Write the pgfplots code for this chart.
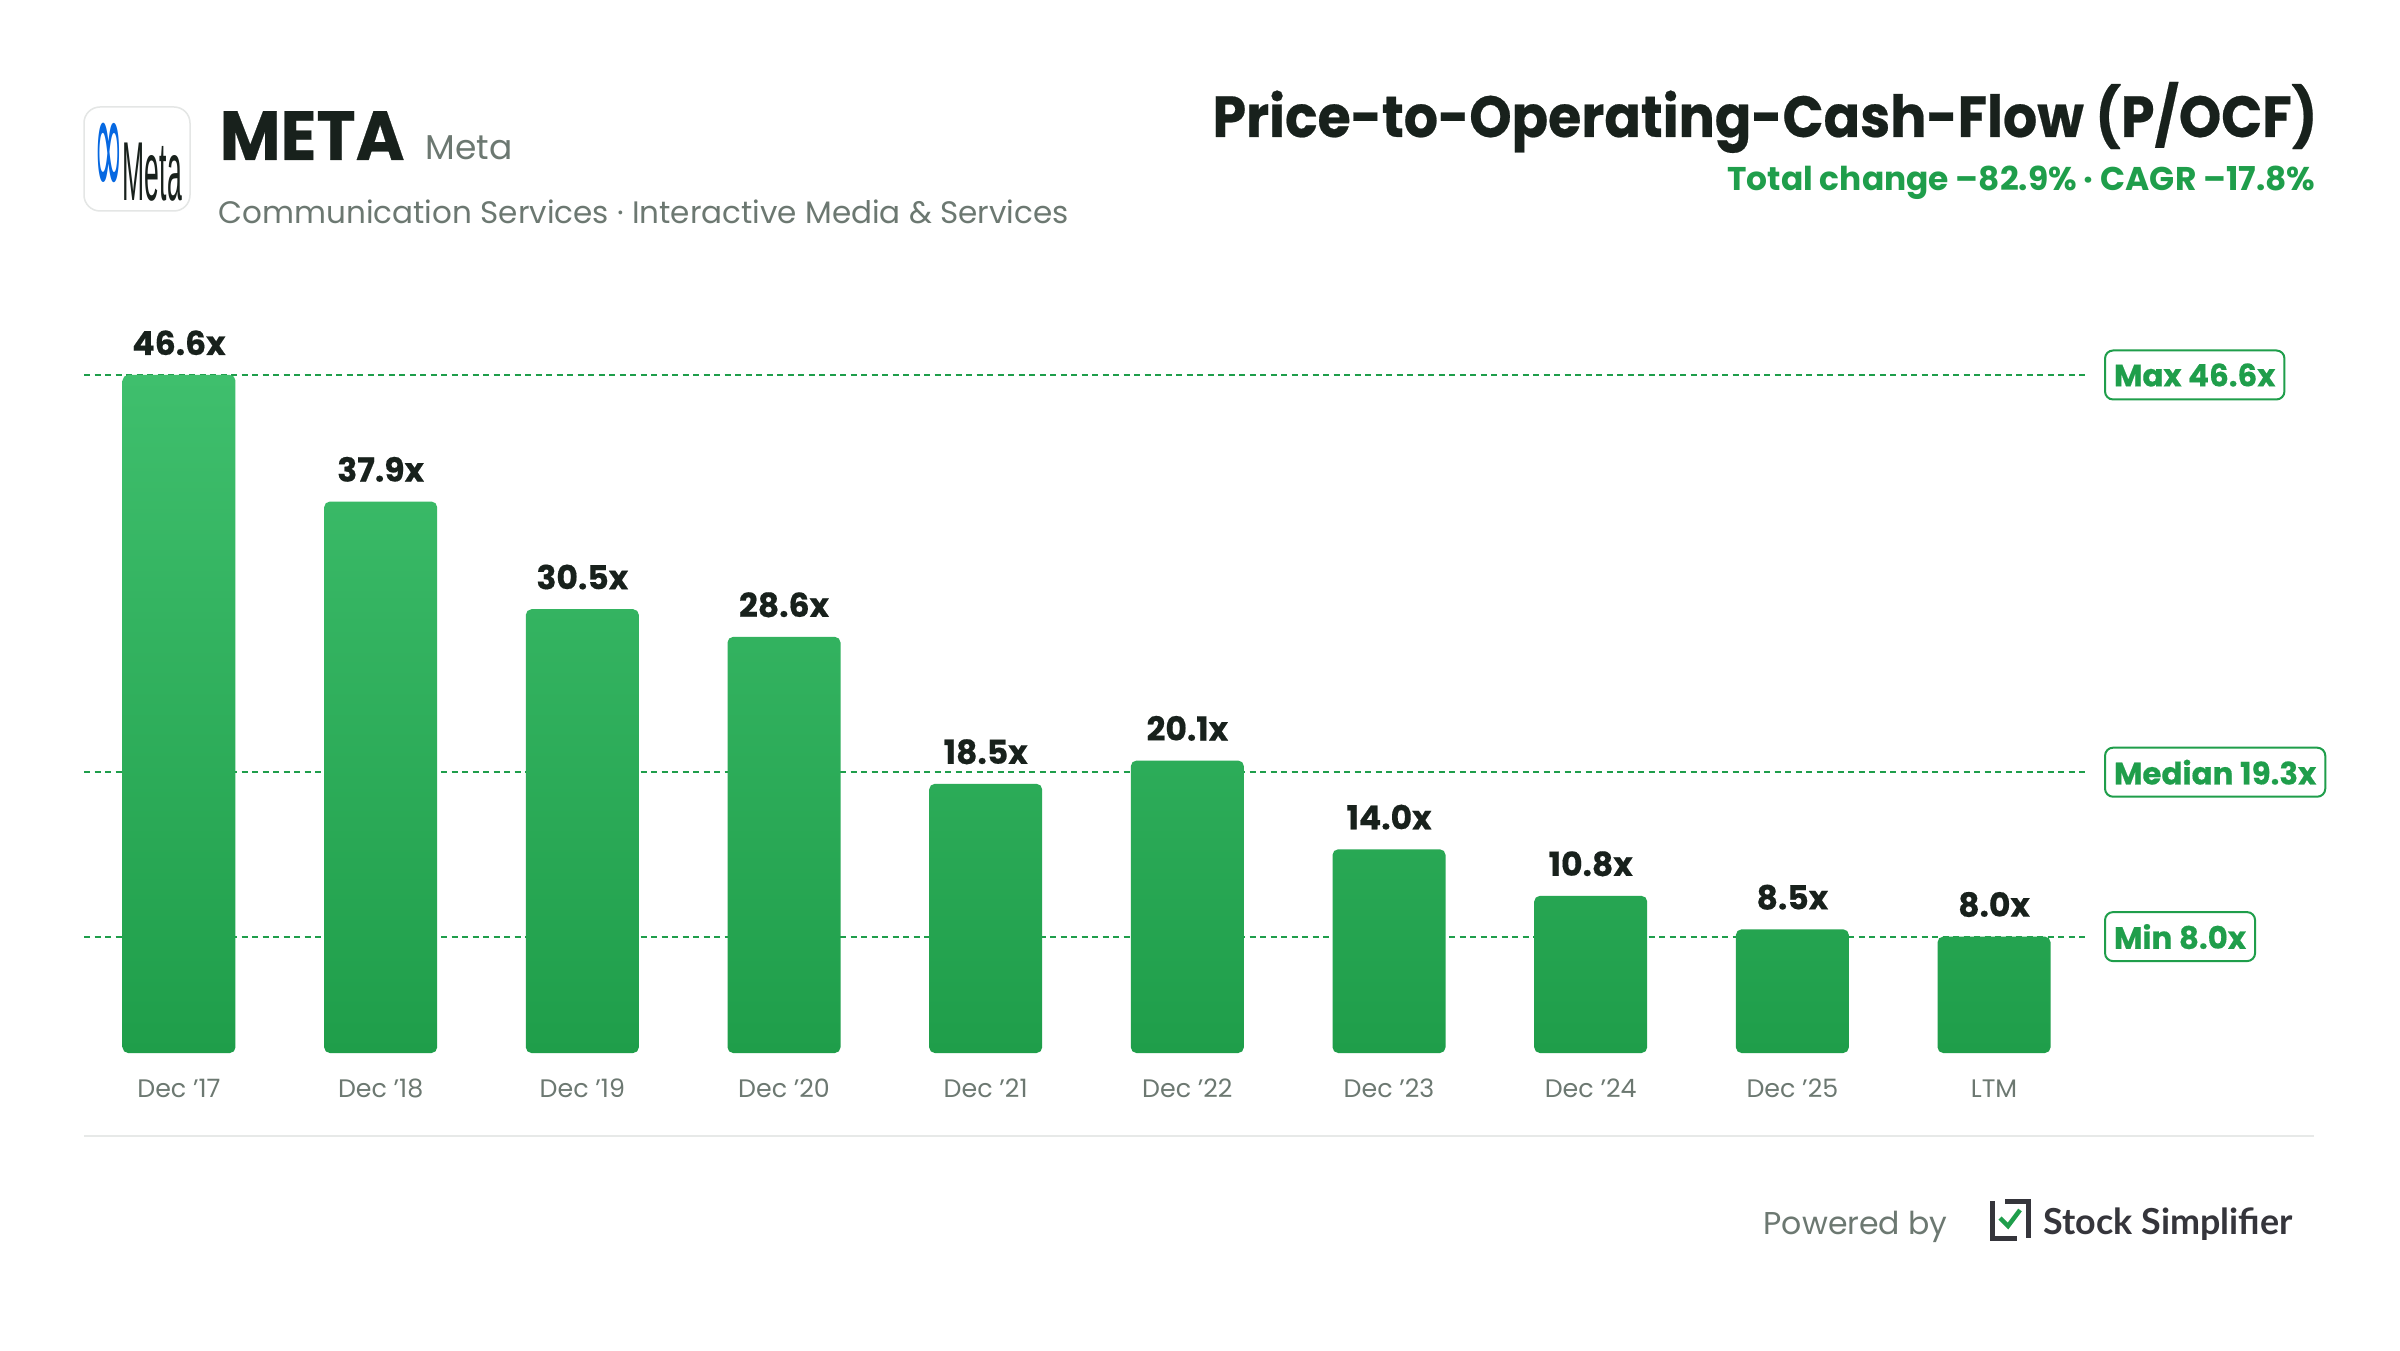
\documentclass[border=0pt]{standalone}
\usepackage{fontspec}
\setmainfont{Poppins}
\newfontfamily\heavy{Poppins}[BoldFeatures={FakeBold=0.4}]
\newfontfamily\dejavu{DejaVu Sans}
\newfontfamily\libsans{Liberation Sans}
\newfontfamily\lato{Lato}
\usepackage{graphicx}
\usepackage{pgfplots}
\pgfplotsset{compat=1.18}
\definecolor{ink}{HTML}{18211C}
\definecolor{greytxt}{HTML}{6C7871}
\definecolor{grn}{HTML}{1F9E4B}
\definecolor{bartop}{HTML}{3FBF6D}
\definecolor{barbot}{HTML}{1F9E4A}
\definecolor{sepc}{HTML}{E7E9E8}
\definecolor{metablue}{HTML}{0668E1}
\definecolor{logoc}{HTML}{35353B}
\definecolor{boxgrey}{HTML}{E4E6E5}
\begin{document}
\begin{tikzpicture}[x=1cm,y=1cm]
\path[use as bounding box, fill=white] (0,0) rectangle (24,13.5);
% logo
\draw[boxgrey, line width=0.15mm, rounded corners=1.6mm] (0.84,11.39) rectangle (1.90,12.43);
\node[inner sep=0] at (1.38,11.88) {\scalebox{0.27}[0.85]{\fontsize{28pt}{28pt}\selectfont{\dejavu\color{metablue}\scalebox{1.3}[1.9]{∞}}{\libsans\color{ink}Meta}}};
% header texts
\node[anchor=base west, inner sep=0, text=ink] at (2.19,11.90) {\scalebox{0.953}[1]{\heavy\bfseries\fontsize{19.8pt}{22pt}\selectfont META}};
\node[anchor=base west, inner sep=0, text=greytxt] at (4.25,11.90) {\fontsize{9.8pt}{11pt}\selectfont Meta};
\node[anchor=base west, inner sep=0, text=greytxt] at (2.18,11.26) {\fontsize{8.83pt}{10pt}\selectfont Communication Services · Interactive Media \& Services};
\node[anchor=base east, inner sep=0, text=ink] at (23.18,12.13) {\scalebox{0.928}[1]{\heavy\bfseries\fontsize{16.5pt}{20pt}\selectfont Price-to-Operating-Cash-Flow (P/OCF)}};
\node[anchor=base east, inner sep=0, text=grn] at (23.16,11.59) {\bfseries\fontsize{9.35pt}{11pt}\selectfont Total change –82.9\% · CAGR –17.8\%};
% separator
\draw[sepc, line width=0.2mm] (0.84,2.14) -- (23.14,2.14);
% footer
\node[anchor=base west, inner sep=0, text=greytxt] at (17.63,1.16) {\fontsize{8.97pt}{11pt}\selectfont Powered by};
\draw[logoc, line width=0.5mm] (19.92,1.49) -- (19.92,1.12) -- (20.17,1.12);
\draw[logoc, line width=0.5mm] (20.05,1.49) -- (20.28,1.49) -- (20.28,1.12);
\draw[grn, line width=0.45mm] (20.00,1.32) -- (20.08,1.24) -- (20.20,1.40);
\node[anchor=base west, inner sep=0, text=logoc] at (20.43,1.16) {\lato\bfseries\fontsize{10.2pt}{12pt}\selectfont Stock Simplifier};
\begin{axis}[
  at={(0.84cm,2.97cm)}, anchor=south west,
  scale only axis, width=20.05cm, height=7.275cm,
  xmin=-0.471, xmax=9.471, ymin=0, ymax=50,
  axis line style={draw=none},
  ytick=\empty,
  xtick={0,1,2,3,4,5,6,7,8,9},
  xticklabels={Dec ’17,Dec ’18,Dec ’19,Dec ’20,Dec ’21,Dec ’22,Dec ’23,Dec ’24,Dec ’25,LTM},
  major tick length=0pt,
  xticklabel style={anchor=base, yshift=-4.4mm, font=\fontsize{7.2pt}{9pt}\selectfont, text=greytxt},
  clip=false,
  /pgf/number format/assume math mode=true,
]
\addplot[grn, line width=0.2mm, dash pattern=on 0.6mm off 0.45mm, forget plot] coordinates {(-0.471,46.6) (9.471,46.6)};
\addplot[grn, line width=0.2mm, dash pattern=on 0.6mm off 0.45mm, forget plot] coordinates {(-0.471,19.3) (9.471,19.3)};
\addplot[grn, line width=0.2mm, dash pattern=on 0.6mm off 0.45mm, forget plot] coordinates {(-0.471,8.0) (9.471,8.0)};
\addplot[ybar, bar width=1.13cm, draw=none, top color=bartop, bottom color=barbot, rounded corners=1.6pt,
  nodes near coords={\pgfmathprintnumber[fixed,fixed zerofill,precision=1]{\pgfplotspointmeta}x},
  every node near coord/.append style={anchor=base, yshift=2mm, font=\heavy\bfseries\fontsize{9.4pt}{11pt}\selectfont, text=ink},
] coordinates {(0,46.6) (1,37.9) (2,30.5) (3,28.6) (4,18.5) (5,20.1) (6,14.0) (7,10.8) (8,8.5) (9,8.0)};
\node[draw=grn, line width=0.2mm, rounded corners=0.8mm, fill=white, text=grn, anchor=west, minimum height=4.9mm, inner xsep=0.9mm, font=\heavy\bfseries\fontsize{8.8pt}{10pt}\selectfont, xshift=1.5mm] at (axis cs:9.471,46.6) {Max 46.6x};
\node[draw=grn, line width=0.2mm, rounded corners=0.8mm, fill=white, text=grn, anchor=west, minimum height=4.9mm, inner xsep=0.9mm, font=\heavy\bfseries\fontsize{8.8pt}{10pt}\selectfont, xshift=1.5mm] at (axis cs:9.471,19.3) {Median 19.3x};
\node[draw=grn, line width=0.2mm, rounded corners=0.8mm, fill=white, text=grn, anchor=west, minimum height=4.9mm, inner xsep=0.9mm, font=\heavy\bfseries\fontsize{8.8pt}{10pt}\selectfont, xshift=1.5mm] at (axis cs:9.471,8.0) {Min 8.0x};
\end{axis}
\end{tikzpicture}
\end{document}
